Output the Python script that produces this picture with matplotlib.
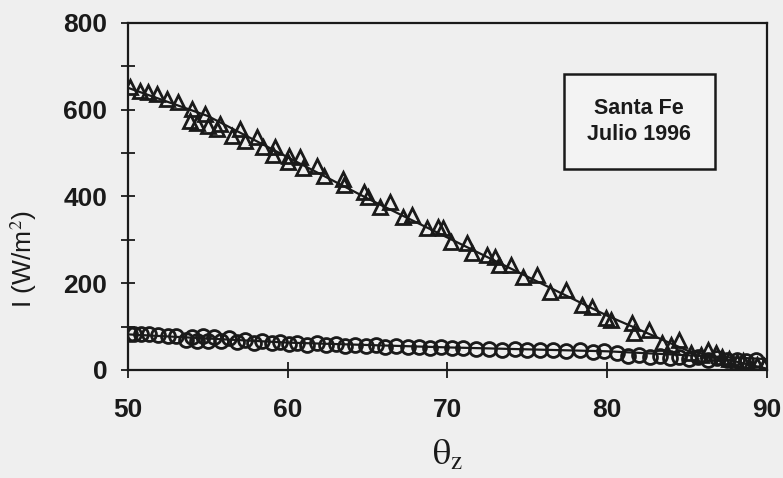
import matplotlib
matplotlib.use('Agg')
import matplotlib.pyplot as plt
from matplotlib.ticker import MultipleLocator

# datos (theta_z en grados, I en W/m2)
tri_theta = [50.1, 50.75, 51.25, 51.8, 52.45, 53.1, 53.9, 54.0, 54.3, 54.8,
             55.0, 55.6, 55.75, 56.5, 57.0, 57.3, 58.05, 58.45, 59.05, 59.2,
             60.0, 60.1, 60.75, 60.95, 61.8, 62.3, 63.45, 63.55, 64.8, 65.0,
             65.75, 66.4, 67.2, 67.8, 68.7, 69.4, 69.7, 70.25, 71.25, 71.55,
             72.45, 72.95, 73.25, 74.0, 74.7, 75.6, 76.4, 77.45, 78.45, 79.05,
             79.95, 80.25, 81.55, 81.7, 82.6, 83.4, 84.0, 84.5, 85.25, 85.9,
             86.3, 86.8, 87.2, 87.6, 88.1, 88.5, 88.9, 89.4, 89.8]
tri_I = [651, 642, 640, 635, 624, 617, 573, 601, 570, 589,
         561, 554, 566, 538, 554, 527, 536, 513, 496, 513,
         480, 492, 490, 466, 469, 446, 439, 427, 411, 399,
         376, 386, 353, 358, 328, 330, 328, 295, 293, 270,
         265, 261, 242, 242, 214, 219, 180, 184, 150, 145,
         120, 115, 108, 85, 92, 62, 57, 69, 39, 34,
         45, 39, 30, 25, 18, 20, 10, 12, 8]

circ_theta = [50.1, 50.4, 50.8, 51.3, 51.9, 52.5, 53.0,
              53.6, 54.0, 54.3, 54.7, 55.0, 55.4, 55.8, 56.3, 56.8, 57.3, 57.9, 58.4, 59.0, 59.5,
              60.1, 60.6, 61.2, 61.8, 62.4, 63.0, 63.6, 64.2, 64.9, 65.5, 66.1, 66.8, 67.5, 68.2, 68.9, 69.6,
              70.3, 71.0, 71.8, 72.6, 73.4, 74.2, 75.0, 75.8, 76.6, 77.4, 78.3, 79.1, 79.8,
              80.6, 81.3, 82.0, 82.7, 83.3, 83.9, 84.5, 85.1, 85.7, 86.3, 86.9, 87.5, 88.1, 88.7, 89.3]
circ_I = [84, 84, 83, 83, 80, 79, 78,
          68, 77, 67, 78, 66, 76, 66, 74, 65, 70, 63, 67, 62, 64,
          60, 62, 58, 61, 57, 60, 56, 58, 55, 57, 54, 55, 52, 54, 51, 52,
          50, 51, 48, 49, 47, 48, 46, 47, 45, 44, 46, 42, 44,
          38, 33, 35, 30, 33, 28, 31, 26, 29, 24, 27, 22, 24, 20, 22]

# curvas de ajuste
fit_theta_tri = [50, 55, 60, 65, 70, 75, 80, 85, 90]
fit_I_tri = [650, 585, 490, 395, 305, 215, 125, 45, 3]
fit_theta_circ = [50, 60, 70, 80, 90]
fit_I_circ = [82, 63, 52, 43, 25]

bg = '#efefef'
ink = '#1a1a1a'
plt.rcParams['mathtext.fontset'] = 'stix'

fig = plt.figure(figsize=(7.83, 4.78), dpi=100, facecolor=bg)
ax = fig.add_axes([0.1635, 0.226, 0.816, 0.7265], facecolor=bg)

ax.plot(fit_theta_tri, fit_I_tri, '-', color=ink, lw=1.6, zorder=2)
ax.plot(fit_theta_circ, fit_I_circ, '-', color=ink, lw=1.6, zorder=2)
ax.plot(tri_theta, tri_I, '^', ms=10.5, mfc='none', mec=ink, mew=2.0, zorder=3)
ax.plot(circ_theta, circ_I, 'o', ms=10, mfc='none', mec=ink, mew=2.0, zorder=3)

ax.set_xlim(50, 90)
ax.set_ylim(0, 800)
ax.xaxis.set_major_locator(MultipleLocator(10))
ax.yaxis.set_major_locator(MultipleLocator(200))
ax.yaxis.set_minor_locator(MultipleLocator(100))
ax.tick_params(axis='both', which='both', direction='inout', color=ink, width=1.3)
ax.tick_params(axis='y', which='both', length=10, pad=10)
ax.tick_params(axis='x', which='major', length=12, pad=14)
ax.tick_params(labelsize=19, labelcolor=ink)
for lab in ax.get_xticklabels() + ax.get_yticklabels():
    lab.set_fontfamily('Liberation Sans')
    lab.set_fontweight('bold')
for s in ax.spines.values():
    s.set_color(ink)
    s.set_linewidth(1.6)

ax.set_ylabel('I (W/m$^2$)', fontsize=19, family='Liberation Sans', color=ink)
ax.yaxis.set_label_coords(-0.14, 0.32)

# etiqueta del eje x
fig.text(448 / 783, 1 - 455 / 478, r'$\mathrm{\theta_z}$', fontsize=26,
         color=ink, ha='center', va='center')

ax.text(0.80, 0.716, 'Santa Fe\nJulio 1996', transform=ax.transAxes,
        ha='center', va='center', fontsize=15.5, fontweight='bold',
        family='Liberation Sans', color=ink, linespacing=1.35,
        bbox=dict(boxstyle='square,pad=1.1', fc='#f3f3f3', ec=ink, lw=1.8))

fig.savefig('out.png', dpi=100, facecolor=bg)
